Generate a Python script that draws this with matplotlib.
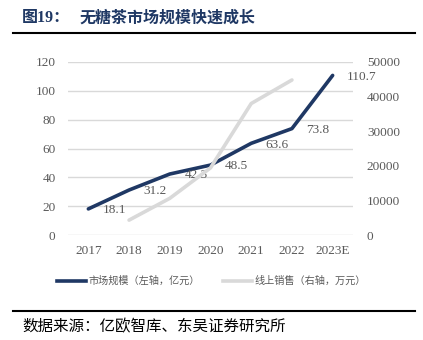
import matplotlib.pyplot as plt
from matplotlib.lines import Line2D

plt.rcParams['font.family'] = ['Liberation Serif', 'Noto Sans CJK SC', 'DejaVu Sans']

years = ["2017", "2018", "2019", "2020", "2021", "2022", "2023E"]
market_size = [18.1, 31.2, 42.3, 48.5, 63.6, 73.8, 110.7]        # 亿元, left axis
online_years = ["2018", "2019", "2020", "2021", "2022"]
online_sales = [4300, 10600, 19400, 38000, 44800]                # 万元, right axis

navy = "#1F3864"
light = "#D9D9D9"
text_grey = "#595959"

W, H = 423, 340
fig = plt.figure(figsize=(W / 100, H / 100), dpi=100)

# plot area in pixel terms
left, right, top, bottom = 68, 353, 62, 235
ax = fig.add_axes([left / W, 1 - bottom / H, (right - left) / W, (bottom - top) / H])
ax2 = ax.twinx()

x = list(range(len(years)))
x_online = [years.index(y) for y in online_years]

ax.plot(x, market_size, color=navy, lw=2.6, solid_capstyle="round", zorder=3)
ax2.plot(x_online, online_sales, color=light, lw=2.6, solid_capstyle="round")

for xi, v in zip(x, market_size):
    ax.annotate(f"{v}", (xi, v), xytext=(10.5, -1), textcoords="offset points",
                ha="left", va="center", fontsize=9.5, color=text_grey)

ax.set_xlim(-0.5, len(years) - 0.5)
ax.set_ylim(0, 120)
ax.set_yticks(range(0, 121, 20))
ax2.set_ylim(0, 50000)
ax2.set_yticks(range(0, 50001, 10000))
ax.set_xticks(x)
ax.set_xticklabels(years)

ax.grid(axis="y", color=light, lw=1)
ax.set_axisbelow(True)
for a in (ax, ax2):
    for s in a.spines.values():
        s.set_visible(False)
    a.tick_params(length=0, labelsize=9.5, labelcolor=text_grey)
ax.tick_params(axis="y", pad=9)
ax.tick_params(axis="x", pad=7)
ax2.tick_params(axis="y", pad=10)

# legend below the plot
handles = [Line2D([], [], color=navy, lw=2.6),
           Line2D([], [], color=light, lw=2.6)]
fig.legend(handles, ["市场规模（左轴，亿元）", "线上销售（右轴，万元）"],
           loc="center", bbox_to_anchor=(0.5, 1 - 281 / H), ncol=2,
           frameon=False, handlelength=2.9, handletextpad=0.25,
           columnspacing=2.2, prop={"family": ["Noto Sans CJK SC"], "size": 7.3},
           labelcolor=text_grey)

# title and rules
fig.text(22 / W, 1 - 18 / H, "图19：", fontsize=11.5, fontweight="bold",
         color=navy, va="center", ha="left")
fig.text(80 / W, 1 - 18 / H, "无糖茶市场规模快速成长", fontsize=11.5,
         fontweight="bold", color=navy, va="center", ha="left",
         family=["Noto Sans CJK SC"])
fig.add_artist(Line2D([13 / W, 415 / W], [1 - 33 / H] * 2, color="black", lw=1.5))
fig.add_artist(Line2D([13 / W, 415 / W], [1 - 311 / H] * 2, color="black", lw=1.5))
fig.text(22 / W, 1 - 327 / H, "数据来源：亿欧智库、东吴证券研究所", fontsize=11.2,
         color="black", va="center", ha="left", family=["Noto Sans CJK SC"])

fig.savefig("out.png", dpi=100)
